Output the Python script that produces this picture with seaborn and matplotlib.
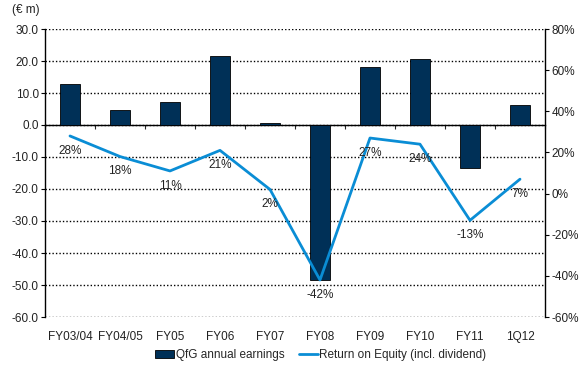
import numpy as np
import matplotlib
matplotlib.use("Agg")
import matplotlib.pyplot as plt
import seaborn as sns
from matplotlib.patches import Patch
from matplotlib.lines import Line2D
from matplotlib.ticker import FuncFormatter

# data
periods = ["FY03/04", "FY04/05", "FY05", "FY06", "FY07", "FY08", "FY09", "FY10", "FY11", "1Q12"]
earnings = [12.8, 4.7, 7.3, 21.6, 0.6, -48.4, 18.0, 20.5, -13.3, 6.1]
roe = [28, 18, 11, 21, 2, -42, 27, 24, -13, 7]

bar_color = "#003057"
line_color = "#0a8dd5"
text_color = "#222222"
fs = 8.5

sns.set_style("white")
plt.rcParams["font.family"] = ["Liberation Sans", "DejaVu Sans"]
plt.rcParams["font.size"] = fs

fig = plt.figure(figsize=(5.86, 3.65), dpi=100)
ax = fig.add_axes([45 / 586, 1 - 317 / 365, 500 / 586, 288 / 365])

x = np.arange(len(periods))
sns.barplot(x=x, y=earnings, ax=ax, color=bar_color, width=0.4,
            edgecolor="black", linewidth=0.6, saturation=1, native_scale=True)

ax.set_xlim(-0.5, len(periods) - 0.5)
ax.set_ylim(-60, 30)
ax.set_yticks(np.arange(-60, 31, 10))
ax.yaxis.set_major_formatter(FuncFormatter(lambda v, p: f"{v:.1f}"))
ax.grid(axis="y", color="black", linestyle=(0, (1, 1.5)), linewidth=1)
ax.set_axisbelow(True)
ax.set_xticks(x)
ax.set_xticklabels(periods, color=text_color)
ax.tick_params(axis="x", length=0, pad=10)
ax.tick_params(axis="y", length=3, width=0.8, direction="out", colors="black",
               labelcolor=text_color, pad=1.5, left=True)
for s in ["top", "bottom", "right"]:
    ax.spines[s].set_visible(False)
ax.spines["left"].set_color("black")
ax.spines["left"].set_linewidth(1)
ax.set_xlabel("")
ax.set_ylabel("")

# zero line with ticks between categories
zx = ax.secondary_xaxis(0, transform=ax.transData)
zx.set_xticks(np.arange(-0.5, len(periods), 1.0))
zx.tick_params(axis="x", length=3, width=0.8, direction="out", labelbottom=False)
zx.spines["bottom"].set_linewidth(1)
zx.spines["bottom"].set_color("black")

# return on equity on the right axis
ax2 = ax.twinx()
sns.lineplot(x=x, y=roe, ax=ax2, color=line_color, linewidth=2)
ax2.set_ylim(-60, 80)
ax2.set_yticks(np.arange(-60, 81, 20))
ax2.yaxis.set_major_formatter(FuncFormatter(lambda v, p: f"{v:.0f}%"))
ax2.tick_params(axis="y", length=3, width=0.8, direction="out", colors="black",
                labelcolor=text_color, pad=1.5, right=True)
for s in ["top", "bottom", "left"]:
    ax2.spines[s].set_visible(False)
ax2.spines["right"].set_color("black")
ax2.spines["right"].set_linewidth(1)
ax2.set_xlim(-0.5, len(periods) - 0.5)

for xi, v in zip(x, roe):
    ax2.annotate(f"{v}%", (xi, v), xytext=(0, -10.5), textcoords="offset points",
                 ha="center", va="center", color=text_color, fontsize=fs)

fig.text(12 / 586, 1 - 10 / 365, "(€ m)", ha="left", va="center", color=text_color, fontsize=fs)

handles = [Patch(facecolor=bar_color, edgecolor="black", linewidth=0.6),
           Line2D([0], [0], color=line_color, linewidth=2)]
labels = ["QfG annual earnings", "Return on Equity (incl. dividend)"]
fig.legend(handles, labels, loc="center", bbox_to_anchor=(321 / 586, 1 - 355 / 365),
           ncol=2, frameon=False, fontsize=fs, handlelength=1.6, handletextpad=0.15,
           columnspacing=1.2, handleheight=0.6)

fig.savefig("out.png", dpi=100)
